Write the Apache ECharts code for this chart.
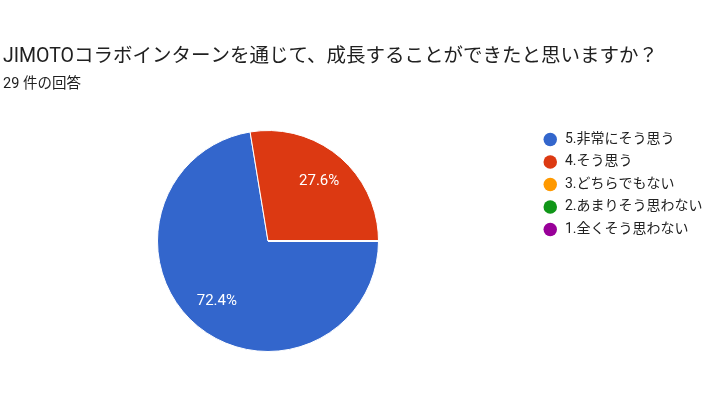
<!DOCTYPE html>
<html>
<head>
<meta charset="utf-8">
<script src="https://cdn.jsdelivr.net/npm/echarts@6/dist/echarts.min.js"></script>
<style>
  html, body { margin: 0; padding: 0; background: #fff; }
  #chart { width: 713px; height: 402px; }
</style>
</head>
<body>
<div id="chart"></div>
<script>
var titleText = "JIMOTOコラボインターンを通じて、成長することができたと思いますか？";
var subText = "29 件の回答";
// 回答の選択肢と件数
var categories = ["5.非常にそう思う", "4.そう思う", "3.どちらでもない", "2.あまりそう思わない", "1.全くそう思わない"];
var counts = [21, 8, 0, 0, 0];
var colors = ["#3366cc", "#dc3912", "#ff9900", "#109618", "#990099"];

var font = "Roboto, 'Noto Sans CJK JP', sans-serif";

var pieData = [];
for (var i = 0; i < categories.length; i++) {
    pieData.push({ name: categories[i], value: counts[i] });
}

var chart = echarts.init(document.getElementById('chart'));
var option = {
    color: colors,
    animation: false,
    title: [{
        text: titleText,
        left: 3,
        top: 46,
        padding: 0,
        textStyle: { fontFamily: font, fontSize: 19.5, fontWeight: 'normal', color: '#212121', lineHeight: 22 }
    }, {
        text: subText,
        left: 3,
        top: 76,
        padding: 0,
        textStyle: { fontFamily: font, fontSize: 14.5, fontWeight: 'normal', color: '#212121', lineHeight: 16 }
    }],
    legend: {
        orient: 'vertical',
        left: 543.5,
        top: 132.5,
        padding: 0,
        icon: 'circle',
        itemWidth: 13.5,
        itemHeight: 13.5,
        itemGap: 8.5,
        selectedMode: false,
        data: categories,
        itemStyle: { borderWidth: 0 },
        textStyle: { fontFamily: font, fontSize: 14, color: '#222222', lineHeight: 13.5, padding: [0, 0, 0, 3] }
    },
    series: [{
        type: 'pie',
        center: [268, 241],
        radius: 110.5,
        startAngle: 0,
        clockwise: true,
        silent: true,
        label: { show: false },
        labelLine: { show: false },
        itemStyle: { borderColor: '#ffffff', borderWidth: 1 },
        data: pieData
    }, {
        // 数値ラベル用の透明レイヤー
        type: 'pie',
        center: [268, 241],
        radius: [41.5, 110.5],
        startAngle: 0,
        clockwise: true,
        silent: true,
        percentPrecision: 1,
        itemStyle: { color: 'rgba(0,0,0,0)' },
        label: {
            show: true,
            position: 'inside',
            fontFamily: font,
            fontSize: 15,
            color: '#ffffff',
            formatter: function (p) { return p.value > 0 ? p.percent.toFixed(1) + '%' : ''; }
        },
        labelLine: { show: false },
        data: pieData
    }]
};
chart.setOption(option);
</script>
</body>
</html>
